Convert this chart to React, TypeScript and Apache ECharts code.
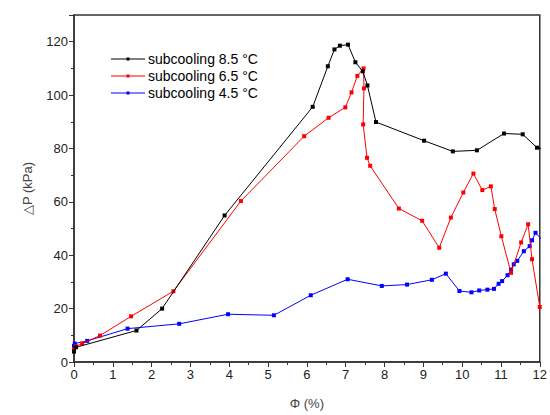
import React, { useEffect, useRef } from "react";
import * as echarts from "echarts";

const seriesNames = ["subcooling 8.5 °C", "subcooling 6.5 °C", "subcooling 4.5 °C"];
const seriesColors = ["#000000", "#ff0000", "#0000ff"];

const phi85 = [0, 0.05, 1.61, 2.27, 3.88, 6.15, 6.54, 6.71, 6.85, 7.06, 7.25, 7.44, 7.56, 7.78, 9.02, 9.76, 10.38, 11.08, 11.56, 11.93, 12.05];
const dp85 = [3.9, 5.5, 11.8, 20.0, 54.9, 95.6, 110.8, 117.1, 118.5, 118.9, 112.3, 108.9, 103.6, 89.9, 82.9, 78.9, 79.3, 85.6, 85.3, 80.3, 79.9];

const phi65 = [0, 0.05, 0.21, 0.67, 1.47, 2.56, 4.3, 5.93, 6.56, 6.99, 7.15, 7.3, 7.46, 7.47, 7.45, 7.55, 7.63, 8.37, 8.97, 9.41, 9.71, 10.03, 10.29, 10.52, 10.74, 10.84, 11.01, 11.26, 11.52, 11.7, 11.8, 12.0];
const dp65 = [4.8, 5.9, 6.9, 9.9, 17.1, 26.5, 60.3, 84.6, 91.5, 95.4, 101.0, 107.2, 110.0, 102.5, 89.0, 76.5, 73.5, 57.5, 52.9, 42.8, 54.1, 63.5, 70.6, 64.4, 65.8, 57.3, 47.1, 33.4, 44.8, 51.6, 38.5, 20.6];

const phi45 = [0, 0.02, 0.34, 1.38, 2.71, 3.97, 5.15, 6.1, 7.05, 7.93, 8.58, 9.22, 9.58, 9.93, 10.24, 10.44, 10.65, 10.82, 10.94, 11.03, 11.17, 11.26, 11.33, 11.42, 11.59, 11.74, 11.8, 11.89, 12.05];
const dp45 = [6.0, 6.9, 7.9, 12.5, 14.3, 17.9, 17.5, 25.0, 31.0, 28.5, 29.0, 30.8, 33.1, 26.6, 26.1, 26.8, 27.1, 27.4, 29.3, 30.3, 32.5, 34.6, 36.6, 37.9, 41.5, 43.4, 45.6, 48.4, 45.9];

const xs = [phi85, phi65, phi45];
const ys = [dp85, dp65, dp45];

const FONT = "Liberation Sans, Arial, sans-serif";
const AXIS_COLOR = "#333333";
const LEGEND_ICON = "path://M0,6.5 L34,6.5 L34,7.5 L0,7.5 Z M15.5,5.5 L18.5,5.5 L18.5,8.5 L15.5,8.5 Z";

export default function App() {
  const ref = useRef<HTMLDivElement>(null);
  useEffect(() => {
    if (!ref.current) return;
    const chart = echarts.init(ref.current, undefined, { renderer: "svg" });
    chart.setOption({
      animation: false,
      textStyle: { fontFamily: FONT },
      grid: {
        left: 74,
        right: 8,
        top: 15,
        bottom: 53,
        show: true,
        borderColor: AXIS_COLOR,
        borderWidth: 1.5,
        containLabel: false,
      },
      legend: {
        orient: "vertical",
        left: 106,
        top: 47,
        itemWidth: 34,
        itemHeight: 14,
        itemGap: 3,
        icon: LEGEND_ICON,
        textStyle: { fontSize: 14, color: "#000", fontFamily: FONT, padding: [0, 0, 0, -2] },
        data: seriesNames,
      },
      xAxis: {
        type: "value",
        min: 0,
        max: 12,
        interval: 1,
        name: "Φ (%)",
        nameLocation: "middle",
        nameGap: 35,
        nameTextStyle: { fontSize: 13, color: "#444", fontFamily: FONT },
        axisLine: { onZero: false, lineStyle: { color: AXIS_COLOR, width: 1.5 } },
        axisTick: { inside: false, length: 5, lineStyle: { color: AXIS_COLOR } },
        minorTick: { show: true, splitNumber: 2, length: 3, lineStyle: { color: AXIS_COLOR } },
        axisLabel: { fontSize: 13, color: "#222", margin: 6, fontFamily: FONT },
        splitLine: { show: false },
      },
      yAxis: {
        type: "value",
        min: 0,
        max: 130,
        interval: 20,
        name: "△P (kPa)",
        nameLocation: "middle",
        nameGap: 40,
        nameTextStyle: { fontSize: 13, color: "#444", fontFamily: FONT },
        axisLine: { onZero: false, lineStyle: { color: AXIS_COLOR, width: 1.5 } },
        axisTick: { inside: false, length: 5, lineStyle: { color: AXIS_COLOR } },
        minorTick: { show: true, splitNumber: 2, length: 3, lineStyle: { color: AXIS_COLOR } },
        axisLabel: { fontSize: 13, color: "#222", margin: 6, showMaxLabel: false, fontFamily: FONT },
        splitLine: { show: false },
      },
      series: seriesNames.map((name, i) => ({
        name,
        type: "line",
        data: xs[i].map((x, j) => [x, ys[i][j]]),
        symbol: "rect",
        symbolSize: 4,
        showSymbol: true,
        clip: true,
        color: seriesColors[i],
        lineStyle: { color: seriesColors[i], width: 1 },
        itemStyle: { color: seriesColors[i] },
        z: 3 - i,
      })),
    });
    return () => chart.dispose();
  }, []);
  return <div ref={ref} style={{ width: 550, height: 415, position: "absolute", left: 0, top: 0 }} />;
}
